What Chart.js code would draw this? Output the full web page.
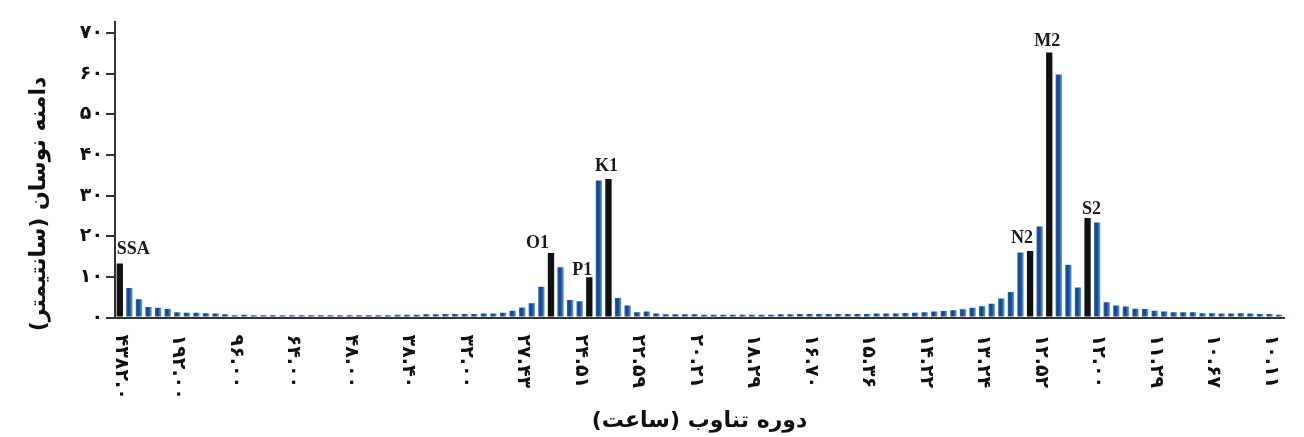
<!DOCTYPE html>
<html>
<head>
<meta charset="utf-8">
<script src="https://cdn.jsdelivr.net/npm/chart.js@4.4.1/dist/chart.umd.min.js"></script>
<style>
  html, body { margin: 0; padding: 0; background: #ffffff; }
  #wrap { width: 1304px; height: 437px; position: relative; }
</style>
</head>
<body>
<div id="wrap"><canvas id="spectrum" width="1304" height="437"></canvas></div>
<script>
// Amplitude (cm) of each frequency bin, from the longest period to the shortest
const amplitudes = [
  13.3, 7.3, 4.5, 2.6, 2.4, 2.1, 1.3, 1.2, 1.2, 1.1,
  1.0, 0.8, 0.6, 0.7, 0.6, 0.6, 0.6, 0.6, 0.6, 0.6,
  0.6, 0.6, 0.6, 0.6, 0.6, 0.6, 0.6, 0.6, 0.6, 0.7,
  0.7, 0.7, 0.8, 0.8, 0.9, 0.9, 0.9, 0.9, 1.0, 1.0,
  1.2, 1.7, 2.5, 3.5, 7.6, 15.9, 12.4, 4.3, 4.0, 9.9,
  33.7, 34.1, 4.8, 3.0, 1.3, 1.5, 1.0, 0.8, 0.8, 0.8,
  0.8, 0.7, 0.7, 0.7, 0.7, 0.7, 0.7, 0.7, 0.7, 0.8,
  0.8, 0.9, 0.9, 0.9, 0.9, 0.9, 0.9, 0.9, 0.9, 1.0,
  1.0, 1.0, 1.15, 1.2, 1.3, 1.5, 1.6, 1.8, 2.05, 2.4,
  2.8, 3.4, 4.7, 6.3, 16.0, 16.4, 22.4, 65.2, 59.8, 13.0,
  7.4, 24.5, 23.4, 3.8, 3.0, 2.7, 2.2, 2.1, 1.7, 1.5,
  1.3, 1.3, 1.3, 1.1, 1.1, 1.0, 1.0, 1.1, 1.0, 0.9,
  0.9, 0.7
];

// Bins that hold a named tidal constituent
const constituentNames = ['SSA', 'O1', 'P1', 'K1', 'N2', 'M2', 'S2'];
const constituentBins  = [0, 45, 49, 51, 95, 97, 101];

// Period labels (hours), one every sixth bin
const periodLabels = [
  '۴۳۸۲.۰', '۱۹۲.۰۰', '۹۶.۰۰', '۶۴.۰۰', '۴۸.۰۰', '۳۸.۴۰', '۳۲.۰۰',
  '۲۷.۴۳', '۲۴.۵۱', '۲۲.۵۹', '۲۰.۲۱', '۱۸.۲۹', '۱۶.۷۰', '۱۵.۳۶',
  '۱۴.۲۲', '۱۳.۲۴', '۱۲.۵۲', '۱۲.۰۰', '۱۱.۲۹', '۱۰.۶۷', '۱۰.۱۱'
];
const periodStep = 6;

// Amplitude axis labels
const yTickValues = [0, 10, 20, 30, 40, 50, 60, 70];
const yTickLabels = ['۰', '۱۰', '۲۰', '۳۰', '۴۰', '۵۰', '۶۰', '۷۰'];

const RLM = '\u200F';
const xTitle = 'دوره تناوب (ساعت)' + RLM;
const yTitle = 'دامنه نوسان (سانتیمتر)' + RLM;

// Category per bin
const bins = amplitudes.map((_, i) => String(i));

// Placement of each constituent name relative to its bar
const nameStyle = {
  SSA: { align: 'left',   dx: 0,  gap: 10 },
  O1:  { align: 'right',  dx: -2, gap: 5 },
  P1:  { align: 'right',  dx: 3,  gap: 2 },
  K1:  { align: 'center', dx: -2, gap: 8 },
  N2:  { align: 'right',  dx: 3,  gap: 8 },
  M2:  { align: 'center', dx: -2, gap: 6 },
  S2:  { align: 'center', dx: 4,  gap: 4 }
};

const constituentSet = new Set(constituentBins);

function barFill(ctx) {
  if (constituentSet.has(ctx.dataIndex)) return '#111111';
  const chart = ctx.chart;
  const xs = chart.scales && chart.scales.x;
  if (!xs || !chart.chartArea) return '#2a5ea6';
  const cx = xs.getPixelForValue(ctx.dataIndex);
  const g = chart.ctx.createLinearGradient(cx - 3.2, 0, cx + 3.2, 0);
  g.addColorStop(0, '#2f6db5');
  g.addColorStop(0.35, '#1f3c7e');
  g.addColorStop(0.6, '#28549a');
  g.addColorStop(1, '#48aef0');
  return g;
}

const overlay = {
  id: 'overlay',
  afterDatasetsDraw(chart) {
    const { ctx, scales: { x, y } } = chart;
    const meta = chart.getDatasetMeta(0);
    ctx.save();

    // Constituent names above their bars
    ctx.font = 'bold 18px "Liberation Serif"';
    ctx.fillStyle = '#1a1a1a';
    ctx.textBaseline = 'alphabetic';
    constituentNames.forEach((name, k) => {
      const bar = meta.data[constituentBins[k]];
      const st = nameStyle[name];
      let tx = bar.x + st.dx;
      if (st.align === 'left') tx = bar.x - bar.width / 2 + st.dx;
      ctx.textAlign = st.align;
      ctx.fillText(name, tx, bar.y - st.gap);
    });

    // Period labels, turned to read downward
    ctx.font = 'bold 19px "DejaVu Sans"';
    ctx.fillStyle = '#111111';
    ctx.textAlign = 'left';
    ctx.textBaseline = 'middle';
    periodLabels.forEach((lab, k) => {
      const px = x.getPixelForValue(k * periodStep);
      ctx.save();
      ctx.translate(px + 1, y.bottom + 17);
      ctx.rotate(Math.PI / 2);
      ctx.fillText(lab, 0, 0);
      ctx.restore();
    });

    // Amplitude axis title
    ctx.font = 'bold 22px "DejaVu Sans"';
    ctx.textAlign = 'center';
    ctx.textBaseline = 'middle';
    ctx.translate(39, 204);
    ctx.rotate(-Math.PI / 2);
    ctx.fillText(yTitle, 0, 0);

    ctx.restore();
  }
};

new Chart(document.getElementById('spectrum'), {
  type: 'bar',
  data: {
    labels: bins,
    datasets: [{
      data: amplitudes,
      backgroundColor: barFill,
      borderWidth: 0,
      barPercentage: 0.66,
      categoryPercentage: 1.0
    }]
  },
  options: {
    responsive: false,
    animation: false,
    devicePixelRatio: 1,
    layout: { padding: { left: 0, right: 20, top: 22, bottom: 2 } },
    plugins: { legend: { display: false }, tooltip: { enabled: false } },
    scales: {
      x: {
        type: 'category',
        offset: true,
        ticks: { display: false },
        grid: { display: false, drawTicks: false },
        border: { display: true, color: '#333333', width: 2 },
        title: {
          display: true,
          text: xTitle,
          color: '#111111',
          font: { family: 'DejaVu Sans', weight: 'bold', size: 22 },
          padding: { top: 90, bottom: 1 }
        }
      },
      y: {
        min: 0,
        max: 72.7,
        afterBuildTicks: (s) => { s.ticks = yTickValues.map(v => ({ value: v })); },
        afterFit: (s) => { s.width = 115; },
        ticks: {
          includeBounds: false,
          stepSize: 10,
          padding: 3,
          color: '#111111',
          font: { family: 'DejaVu Sans', weight: 'bold', size: 19 },
          callback: (v) => yTickLabels[yTickValues.indexOf(v)]
        },
        grid: { display: true, drawOnChartArea: false, drawTicks: true, tickLength: 9, color: '#333333', lineWidth: 2 },
        border: { display: true, color: '#333333', width: 2 }
      }
    }
  },
  plugins: [overlay]
});
</script>
</body>
</html>
